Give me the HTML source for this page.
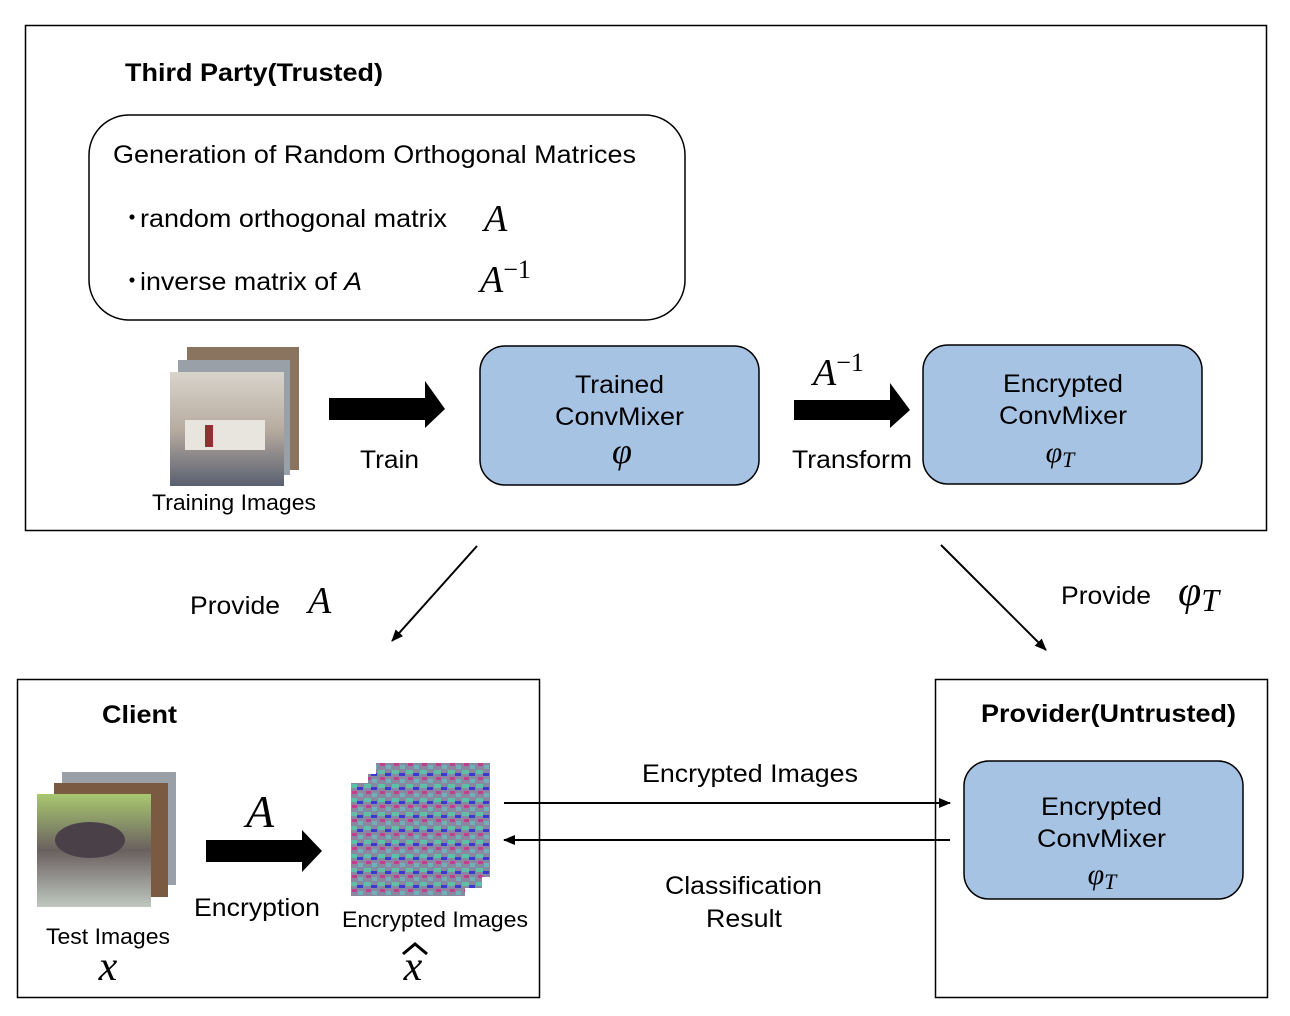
<!DOCTYPE html>
<html><head><meta charset="utf-8"><style>
html,body{margin:0;padding:0;background:#fff;}
svg{display:block;font-family:"Liberation Sans",sans-serif;}
.m{font-family:"Liberation Serif",serif;font-style:italic;}
</style></head><body>
<svg width="1290" height="1016" viewBox="0 0 1290 1016" xmlns="http://www.w3.org/2000/svg">
<defs>
<marker id="ah" markerWidth="12" markerHeight="10" refX="11" refY="5" orient="auto" markerUnits="userSpaceOnUse">
<path d="M0,0 L12,5 L0,10 z" fill="#000"/></marker>
<pattern id="enc" width="14" height="14" patternUnits="userSpaceOnUse">
<rect width="14" height="14" fill="#8a88a0"/>
<rect x="0" y="0" width="7" height="4" fill="#5fc0a8"/>
<rect x="7" y="3" width="6" height="3" fill="#3a3ad0"/>
<rect x="2" y="7" width="5" height="3" fill="#c04090"/>
<rect x="8" y="9" width="5" height="4" fill="#70b0b8"/>
</pattern>
<linearGradient id="boat" x1="0" y1="0" x2="0" y2="1">
<stop offset="0" stop-color="#d8d4cc"/><stop offset="0.5" stop-color="#b8aca0"/><stop offset="1" stop-color="#5a6070"/></linearGradient>
<linearGradient id="horse" x1="0" y1="0" x2="0" y2="1">
<stop offset="0" stop-color="#a8c870"/><stop offset="0.5" stop-color="#6a6060"/><stop offset="1" stop-color="#c0c8c0"/></linearGradient>
</defs>

<rect x="25.5" y="25.5" width="1241" height="505" fill="none" stroke="#000" stroke-width="1.5"/>
<text x="125" y="81" font-size="25" font-weight="bold" textLength="258" lengthAdjust="spacingAndGlyphs">Third Party(Trusted)</text>
<rect x="89" y="115" width="596" height="205" rx="40" fill="none" stroke="#000" stroke-width="1.5"/>
<text x="113" y="163" font-size="25" textLength="523" lengthAdjust="spacingAndGlyphs">Generation of Random Orthogonal Matrices</text>
<text x="120" y="226" font-size="24">・</text>
<text x="140" y="227" font-size="25" textLength="307" lengthAdjust="spacingAndGlyphs">random orthogonal matrix</text>
<text x="484" y="231" font-size="38" class="m">A</text>
<text x="120" y="289" font-size="24">・</text>
<text x="140" y="290" font-size="25" textLength="222" lengthAdjust="spacingAndGlyphs">inverse matrix of <tspan font-style="italic">A</tspan></text>
<text x="480" y="292" font-size="38" class="m">A<tspan font-size="26" dy="-14" font-style="normal">−1</tspan></text>

<rect x="187" y="347" width="112" height="123" fill="#8a7460"/>
<rect x="178" y="360" width="112" height="115" fill="#9aa0a8"/>
<rect x="170" y="372" width="114" height="114" fill="url(#boat)"/>
<rect x="185" y="420" width="80" height="30" fill="#e8e4de"/>
<rect x="205" y="425" width="8" height="22" fill="#903030"/>
<text x="152" y="510" font-size="22" textLength="164" lengthAdjust="spacingAndGlyphs">Training Images</text>

<path d="M329,398 H425 V381 L445,409 L425,428 V420 H329 z" fill="#000"/>
<text x="360" y="468" font-size="25" textLength="59" lengthAdjust="spacingAndGlyphs">Train</text>

<rect x="480" y="346" width="279" height="139" rx="25" fill="#a7c3e4" stroke="#000" stroke-width="1.5"/>
<text x="575" y="393" font-size="25" textLength="89" lengthAdjust="spacingAndGlyphs">Trained</text>
<text x="555" y="425" font-size="25" textLength="129" lengthAdjust="spacingAndGlyphs">ConvMixer</text>
<text x="622" y="463" font-size="36" class="m" text-anchor="middle">φ</text>

<text x="813" y="385" font-size="38" class="m">A<tspan font-size="26" dy="-14" font-style="normal">−1</tspan></text>
<path d="M794,400 H890 V383 L910,410 L890,428 V420 H794 z" fill="#000"/>
<text x="792" y="468" font-size="25" textLength="120" lengthAdjust="spacingAndGlyphs">Transform</text>

<rect x="923" y="345" width="279" height="139" rx="25" fill="#a7c3e4" stroke="#000" stroke-width="1.5"/>
<text x="1003" y="392" font-size="25" textLength="120" lengthAdjust="spacingAndGlyphs">Encrypted</text>
<text x="999" y="424" font-size="25" textLength="128" lengthAdjust="spacingAndGlyphs">ConvMixer</text>
<text x="1060" y="462" font-size="30" class="m" text-anchor="middle">φ<tspan font-size="22" dy="5">T</tspan></text>

<line x1="477" y1="546" x2="392" y2="641" stroke="#000" stroke-width="2" marker-end="url(#ah)"/>
<line x1="941" y1="545" x2="1046" y2="650" stroke="#000" stroke-width="2" marker-end="url(#ah)"/>
<text x="190" y="614" font-size="25" textLength="90" lengthAdjust="spacingAndGlyphs">Provide</text>
<text x="308" y="613" font-size="38" class="m">A</text>
<text x="1061" y="604" font-size="25" textLength="90" lengthAdjust="spacingAndGlyphs">Provide</text>
<text x="1178" y="605" font-size="42" class="m">φ<tspan font-size="32" dy="6">T</tspan></text>

<rect x="17.5" y="679.5" width="522" height="318" fill="none" stroke="#000" stroke-width="1.5"/>
<text x="102" y="723" font-size="25" font-weight="bold" textLength="75" lengthAdjust="spacingAndGlyphs">Client</text>
<rect x="62" y="772" width="114" height="113" fill="#9aa0a8"/>
<rect x="54" y="783" width="114" height="114" fill="#7a5a40"/>
<rect x="37" y="794" width="114" height="113" fill="url(#horse)"/>
<ellipse cx="90" cy="840" rx="35" ry="18" fill="#4a4048"/>
<text x="260" y="827" font-size="46" class="m" text-anchor="middle">A</text>
<path d="M206,840 H302 V830 L322,851 L302,872 V862 H206 z" fill="#000"/>
<text x="194" y="916" font-size="25" textLength="126" lengthAdjust="spacingAndGlyphs">Encryption</text>
<text x="46" y="944" font-size="22" textLength="124" lengthAdjust="spacingAndGlyphs">Test Images</text>
<text x="108" y="980" font-size="42" class="m" text-anchor="middle">x</text>

<rect x="376" y="763" width="114" height="114" fill="url(#enc)"/>
<rect x="368" y="774" width="114" height="114" fill="url(#enc)"/>
<rect x="351" y="783" width="114" height="113" fill="url(#enc)"/>
<text x="342" y="927" font-size="22" textLength="186" lengthAdjust="spacingAndGlyphs">Encrypted Images</text>
<text x="413" y="980" font-size="42" class="m" text-anchor="middle">x</text>
<path d="M403,954 L415,944 L427,954" fill="none" stroke="#000" stroke-width="3"/>

<rect x="935.5" y="679.5" width="332" height="318" fill="none" stroke="#000" stroke-width="1.5"/>
<text x="981" y="722" font-size="25" font-weight="bold" textLength="255" lengthAdjust="spacingAndGlyphs">Provider(Untrusted)</text>
<rect x="964" y="761" width="279" height="138" rx="25" fill="#a7c3e4" stroke="#000" stroke-width="1.5"/>
<text x="1041" y="815" font-size="25" textLength="121" lengthAdjust="spacingAndGlyphs">Encrypted</text>
<text x="1037" y="847" font-size="25" textLength="129" lengthAdjust="spacingAndGlyphs">ConvMixer</text>
<text x="1102" y="884" font-size="30" class="m" text-anchor="middle">φ<tspan font-size="22" dy="5">T</tspan></text>

<line x1="504" y1="803" x2="950" y2="803" stroke="#000" stroke-width="2" marker-end="url(#ah)"/>
<line x1="950" y1="840" x2="504" y2="840" stroke="#000" stroke-width="2" marker-end="url(#ah)"/>
<text x="642" y="782" font-size="25" textLength="216" lengthAdjust="spacingAndGlyphs">Encrypted Images</text>
<text x="665" y="894" font-size="25" textLength="157" lengthAdjust="spacingAndGlyphs">Classification</text>
<text x="706" y="927" font-size="25" textLength="76" lengthAdjust="spacingAndGlyphs">Result</text>
</svg>
</body></html>
